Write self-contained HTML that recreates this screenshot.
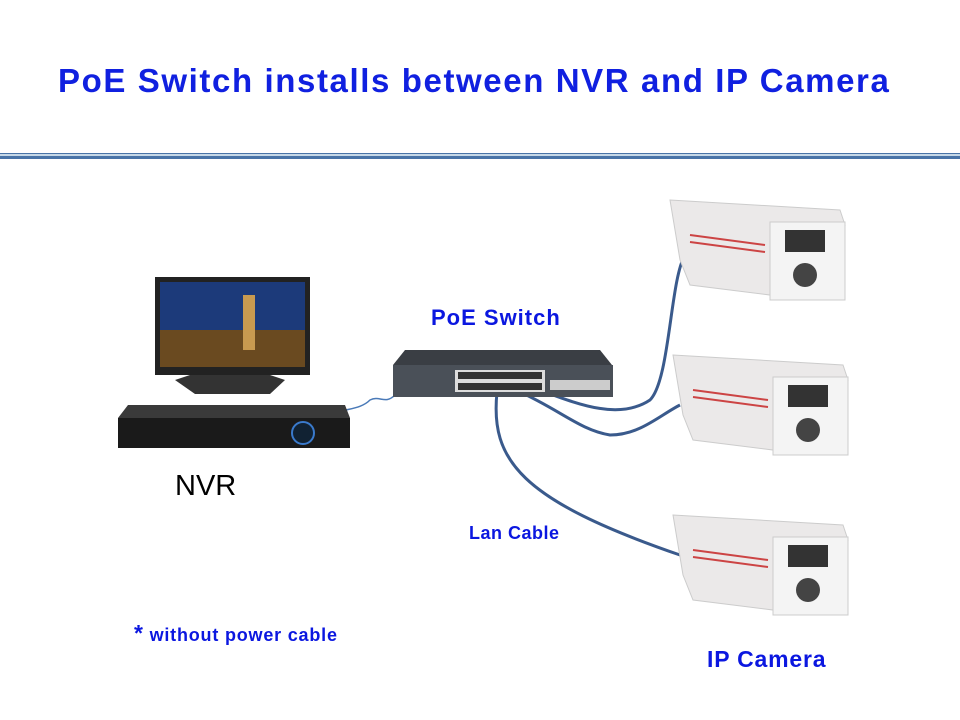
<!DOCTYPE html>
<html><head><style>
body{margin:0;width:960px;height:720px;background:#fff;overflow:hidden;position:relative;font-family:"Liberation Sans",sans-serif}
.t{position:absolute;font-weight:bold;color:#0b17e0;white-space:nowrap}
</style></head><body>
<div class="t" style="left:58px;top:62px;font-size:33px;letter-spacing:1.6px;color:#1020e0">PoE Switch installs between NVR and IP Camera</div>
<div style="position:absolute;left:0;top:153px;width:960px;height:1px;background:#4a74a8"></div>
<div style="position:absolute;left:0;top:154px;width:960px;height:2px;background:#c6d8e8"></div>
<div style="position:absolute;left:0;top:156px;width:960px;height:3px;background:#4a74a8"></div>
<svg width="960" height="720" style="position:absolute;left:0;top:0">
<g fill="none" stroke="#3a5a8c" stroke-width="3">
<path d="M497 392 C490 460 520 500 680 555"/>
<path d="M520 392 C560 410 580 430 610 435 C640 435 660 415 680 405"/>
<path d="M545 392 C580 405 620 420 650 400 C670 380 670 280 685 255"/>
</g>
<path d="M330 415 C345 408 360 410 370 400 C380 395 385 405 395 395" stroke="#4a7ab8" stroke-width="1.5" fill="none"/>
<rect x="155" y="277" width="155" height="98" fill="#222"/>
<rect x="160" y="282" width="145" height="85" fill="#1c3a7a"/>
<rect x="160" y="330" width="145" height="37" fill="#6a4a20"/>
<rect x="243" y="295" width="12" height="55" fill="#c89a50"/>
<path d="M190 375 L175 380 L195 394 L270 394 L285 380 L270 375Z" fill="#333"/>
<path d="M128 405 L345 405 L350 418 L118 418Z" fill="#3a3a3a"/>
<rect x="118" y="418" width="232" height="30" fill="#1a1a1a"/>
<circle cx="303" cy="433" r="11" fill="#123" stroke="#3a7acc" stroke-width="2"/>
<path d="M405 350 L600 350 L612 365 L393 365Z" fill="#3a3e44"/>
<rect x="393" y="365" width="220" height="32" fill="#4a5058"/>
<rect x="455" y="370" width="90" height="22" fill="#ddd"/>
<g fill="#333"><rect x="458" y="372" width="84" height="7"/><rect x="458" y="383" width="84" height="7"/></g>
<rect x="550" y="380" width="60" height="10" fill="#ccc"/>
<g id="cam">
<path d="M670 200 L840 210 L845 225 L770 225 L770 295 L690 285 L680 260Z" fill="#ebe9e9" stroke="#ccc"/>
<rect x="770" y="222" width="75" height="78" fill="#f4f4f4" stroke="#ccc"/>
<rect x="785" y="230" width="40" height="22" fill="#333"/>
<circle cx="805" cy="275" r="12" fill="#444"/>
<path d="M690 235 L765 245 M690 242 L765 252" stroke="#c44" stroke-width="2"/>
</g>
<use href="#cam" transform="translate(3,155)"/>
<use href="#cam" transform="translate(3,315)"/>
</svg>
<div class="t" style="left:431px;top:305px;font-size:22px;letter-spacing:1px">PoE Switch</div>
<div style="position:absolute;left:175px;top:470px;font-size:29px;color:#000">NVR</div>
<div class="t" style="left:469px;top:523px;font-size:18px;letter-spacing:0.5px">Lan Cable</div>
<div class="t" style="left:134px;top:620px;font-size:18px;letter-spacing:0.8px"><span style="font-size:23px">*</span> without power cable</div>
<div class="t" style="left:707px;top:646px;font-size:23px;letter-spacing:0.8px">IP Camera</div>
</body></html>
